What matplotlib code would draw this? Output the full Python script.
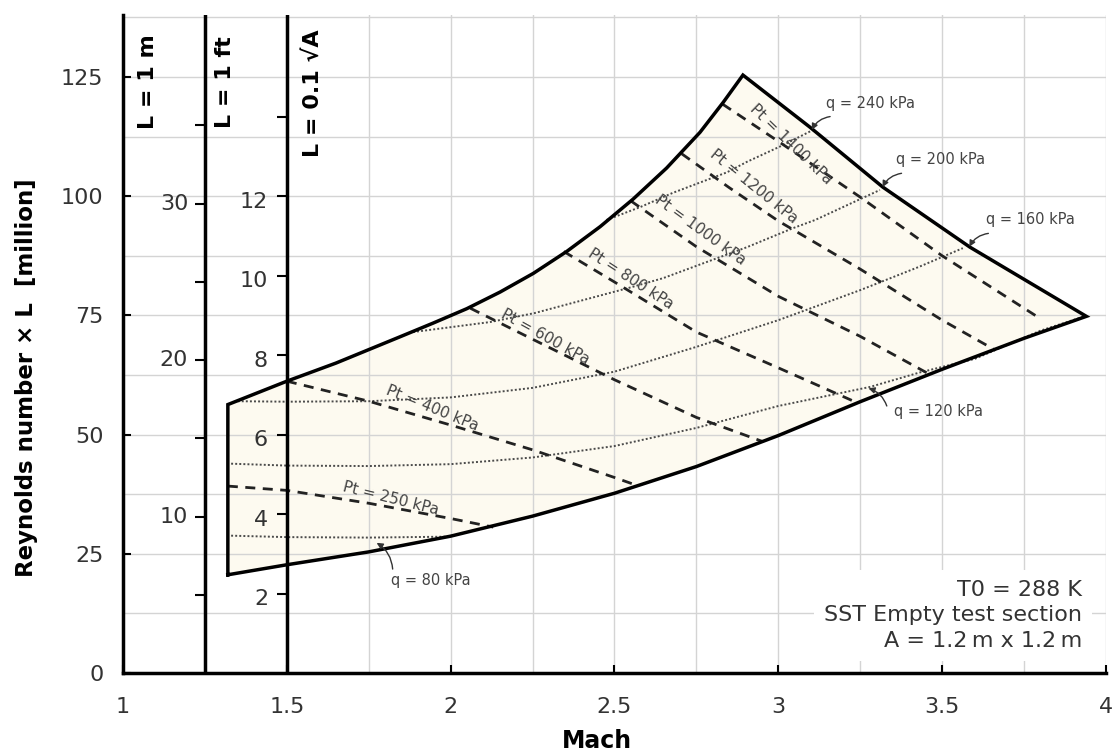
import matplotlib
matplotlib.use("Agg")
import matplotlib.pyplot as plt
from matplotlib.ticker import MultipleLocator

# ---------------- data ----------------
mach_ticks = [1, 1.5, 2, 2.5, 3, 3.5, 4]
mach_tick_labels = ["1", "1.5", "2", "2.5", "3", "3.5", "4"]
re_ticks = [0, 25, 50, 75, 100, 125]

L_FT = 0.3048          # m
L_SQRTA = 0.12         # m  (0.1*sqrt(A), A = 1.2 m x 1.2 m)
ft_major = [10, 20, 30]
ft_minor = [5, 15, 25, 35]
sq_major = [2, 4, 6, 8, 10, 12]
sq_minor = [14]

# envelope boundaries (Mach, Re x L [million])
lower_M = [1.32, 1.5, 1.75, 2.0, 2.25, 2.5, 2.75, 3.0, 3.25, 3.5, 3.75, 3.94]
lower_Re = [20.6, 22.7, 25.4, 28.7, 32.9, 37.7, 43.3, 49.8, 56.9, 63.7, 70.2, 74.8]
upright_M = [3.94, 3.585, 3.319, 3.096, 2.892]
upright_Re = [74.8, 89.3, 101.9, 114.5, 125.4]
upleft_M = [2.892, 2.832, 2.761, 2.659, 2.557, 2.456, 2.354, 2.252, 2.151,
            2.049, 1.947, 1.845, 1.65, 1.5, 1.32]
upleft_Re = [125.6, 119.7, 113.4, 105.9, 99.4, 93.6, 88.4, 83.8, 79.9,
             76.4, 73.4, 70.5, 65.0, 61.2, 56.3]

# total pressure lines (dashed)
pt_values = [250, 400, 600, 800, 1000, 1200, 1400]
pt_M = {
    250: [1.32, 1.5, 1.75, 2.0, 2.13],
    400: [1.5, 1.75, 2.0, 2.25, 2.5, 2.57],
    600: [2.06, 2.25, 2.5, 2.75, 2.95],
    800: [2.345, 2.5, 2.75, 3.0, 3.23],
    1000: [2.55, 2.75, 3.0, 3.25, 3.46],
    1200: [2.705, 2.85, 3.0, 3.25, 3.5, 3.66],
    1400: [2.83, 3.0, 3.25, 3.5, 3.8],
}
pt_Re = {
    250: [39.2, 38.3, 35.6, 32.4, 30.6],
    400: [61.2, 57.0, 52.0, 46.8, 41.0, 39.3],
    600: [76.5, 70.0, 61.5, 53.6, 48.6],
    800: [88.4, 82.0, 71.5, 64.0, 57.0],
    1000: [99.0, 89.4, 79.0, 70.6, 62.7],
    1200: [108.9, 101.8, 94.8, 84.7, 74.0, 67.8],
    1400: [119.3, 111.5, 99.8, 87.5, 74.3],
}
pt_label_M = [1.817, 1.944, 2.288, 2.550, 2.761, 2.924, 3.038]
pt_label_Re = [36.6, 55.5, 70.5, 82.6, 92.9, 102.0, 110.9]
pt_label_rot = [-14, -22, -29, -33, -36, -39, -44]

# dynamic pressure lines (dotted)
q_values = [80, 120, 160, 200, 240]
q_M = {
    80: [1.33, 1.5, 1.75, 2.0],
    120: [1.33, 1.5, 1.75, 2.0, 2.25, 2.5, 2.75, 3.0, 3.28, 3.43, 3.6, 3.8, 3.93],
    160: [1.35, 1.5, 1.75, 2.0, 2.25, 2.5, 2.75, 3.0, 3.25, 3.43, 3.563],
    200: [1.885, 2.12, 2.257, 2.556, 2.648, 2.813, 2.904, 3.045, 3.112, 3.31],
    240: [2.475, 2.578, 2.678, 2.843, 2.904, 3.014, 3.106],
}
q_Re = {
    80: [28.8, 28.5, 28.4, 28.6],
    120: [43.9, 43.5, 43.4, 43.8, 45.2, 47.6, 51.4, 56.0, 60.0, 63.0, 65.9, 71.8, 74.7],
    160: [57.0, 56.9, 57.0, 57.8, 59.8, 63.2, 68.4, 74.0, 80.3, 85.2, 89.1],
    200: [71.5, 73.6, 75.5, 81.0, 82.8, 87.0, 89.3, 93.3, 95.0, 101.3],
    240: [95.0, 97.7, 100.7, 105.0, 107.2, 110.7, 113.9],
}
q_text_M = [1.939, 3.489, 3.769, 3.495, 3.282]
q_text_Re = [19.4, 54.8, 95.1, 107.7, 119.5]
q_tail_M = [1.823, 3.331, 3.641, 3.376, 3.158]
q_tail_Re = [21.8, 56.0, 92.2, 104.8, 116.7]
q_tip_M = [1.774, 3.275, 3.583, 3.318, 3.102]
q_tip_Re = [27.3, 59.7, 89.4, 101.9, 113.9]

# ---------------- figure ----------------
W, H = 1118, 756
fig = plt.figure(figsize=(W / 100, H / 100), dpi=100)
ax = fig.add_axes([123 / W, 83 / H, (1106 - 123) / W, 658 / H])
ax.set_xlim(1, 4)
ax.set_ylim(0, 138)

ax.xaxis.set_minor_locator(MultipleLocator(0.25))
ax.yaxis.set_minor_locator(MultipleLocator(12.5))
ax.set_axisbelow(True)
ax.grid(which="both", color="#d4d4d4", lw=1.0)
ax.set_xticks(mach_ticks)
ax.set_xticklabels(mach_tick_labels)
ax.set_yticks(re_ticks)
ax.tick_params(which="minor", length=0)
ax.tick_params(axis="both", which="major", direction="in", length=6, width=1.5,
               labelsize=16, labelcolor="#333333", colors="black")
ax.tick_params(axis="x", pad=17.5)
ax.tick_params(axis="y", pad=14)
for s in ["top", "right"]:
    ax.spines[s].set_visible(False)
for s in ["left", "bottom"]:
    ax.spines[s].set_linewidth(2.5)

# envelope
env_M = lower_M + upright_M[1:] + upleft_M[1:] + [lower_M[0]]
env_Re = lower_Re + upright_Re[1:] + upleft_Re[1:] + [lower_Re[0]]
ax.fill(env_M, env_Re, color="#fdfaf0", zorder=0.2, lw=0)

# q lines (dotted)
for q in q_values:
    ax.plot(q_M[q], q_Re[q], color="#4a4a4a", lw=1.4, ls=(0, (1, 1.1)), zorder=2)

# Pt lines (dashed)
for p in pt_values:
    ax.plot(pt_M[p], pt_Re[p], color="#222222", lw=2.0, ls=(0, (3.6, 2.7)), zorder=2.5)

for p, m, r, rot in zip(pt_values, pt_label_M, pt_label_Re, pt_label_rot):
    ax.text(m, r, f"Pt = {p} kPa", rotation=rot, rotation_mode="anchor",
            ha="center", va="center", fontsize=11, color="#444444", zorder=4)

for q, tm, tr, am, ar, pm, pr in zip(q_values, q_text_M, q_text_Re, q_tail_M,
                                     q_tail_Re, q_tip_M, q_tip_Re):
    ax.text(tm, tr, f"q = {q} kPa", ha="center", va="center", fontsize=10.5,
            color="#444444", zorder=4)
    ax.annotate("", xy=(pm, pr), xytext=(am, ar),
                arrowprops=dict(arrowstyle="-|>", color="#333333", lw=1.0,
                                mutation_scale=9, shrinkA=0, shrinkB=0,
                                connectionstyle="arc3,rad=0.25"), zorder=4)

# envelope outline
ax.plot(env_M, env_Re, color="black", lw=2.5, solid_joinstyle="miter", zorder=3)

# secondary length axes
for xline in [1.25, 1.5]:
    ax.axvline(xline, color="black", lw=2.5, zorder=3)

ft_pos = [v / L_FT for v in ft_major + ft_minor]
ax.plot([1.25] * len(ft_pos), ft_pos, ls="none", marker=0, markersize=7,
        markeredgewidth=1.5, color="black", zorder=3)
for v in ft_major:
    ax.annotate(str(v), xy=(1.25, v / L_FT), xytext=(-12, 0),
                textcoords="offset points", ha="right", va="center",
                fontsize=16, color="#333333")

sq_pos = [v / L_SQRTA for v in sq_major + sq_minor]
ax.plot([1.5] * len(sq_pos), sq_pos, ls="none", marker=0, markersize=7,
        markeredgewidth=1.5, color="black", zorder=3)
for v in sq_major:
    ax.annotate(str(v), xy=(1.5, v / L_SQRTA), xytext=(-13.5, -4),
                textcoords="offset points", ha="right", va="center",
                fontsize=16, color="#333333")

ax.text(1.076, 124, "L = 1 m", rotation=90, ha="center", va="center",
        fontsize=16, fontweight="bold")
ax.text(1.311, 124, "L = 1 ft", rotation=90, ha="center", va="center",
        fontsize=16, fontweight="bold")
ax.text(1.58, 121.7, "L = 0.1 \u221aA", rotation=90, ha="center", va="center",
        fontsize=16, fontweight="bold")

ax.text(3.927, 12.1, "T0 = 288 K\nSST Empty test section\nA = 1.2\u2009m x 1.2\u2009m",
        ha="right", va="center", multialignment="right", fontsize=16,
        color="#333333", linespacing=1.35, zorder=5,
        bbox=dict(boxstyle="square,pad=0.45", facecolor="white", edgecolor="none"))

fig.text(27 / W, 1 - 378 / H, "Reynolds number \u00d7 L  [million]", rotation=90,
         ha="center", va="center", fontsize=16.5, fontweight="bold")
fig.text(597 / W, 1 - 741 / H, "Mach", ha="center", va="center",
         fontsize=17, fontweight="bold")

fig.savefig("out.png", dpi=100)
